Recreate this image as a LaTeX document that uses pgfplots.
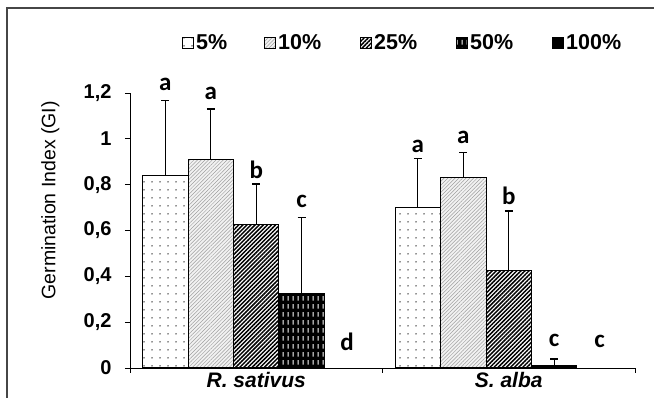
\documentclass[border=0pt]{standalone}
\usepackage{pgfplots}
\pgfplotsset{compat=1.18}
\usepackage{fontspec}
\setmainfont{Liberation Sans}
\newfontfamily\letterfont{Carlito}
\usetikzlibrary{patterns,patterns.meta}

\pgfdeclarepattern{
  name=vdash,
  type=uncolored,
  bottom left={\pgfpointorigin},
  top right={\pgfpoint{4.6pt}{8pt}},
  tile size={\pgfpoint{4.6pt}{8pt}},
  code={
    \pgfsetlinewidth{1.1pt}
    \pgfpathmoveto{\pgfpoint{2.3pt}{1.5pt}}
    \pgfpathlineto{\pgfpoint{2.3pt}{6.5pt}}
    \pgfusepath{stroke}
  }
}

\tikzset{
  sfive/.style={draw=black, line width=1pt, fill=white, postaction={pattern={Dots[distance=8pt, radius=0.75pt]}, pattern color=black!85}},
  sten/.style={draw=black, line width=1pt, fill=gray!10, postaction={pattern={Lines[angle=45, distance=2.6pt, line width=0.5pt]}, pattern color=gray!75}},
  stwf/.style={draw=black, line width=1pt, fill=white, postaction={pattern={Lines[angle=45, distance=2.9pt, line width=1.5pt]}, pattern color=black}},
  sfifty/.style={draw=black, line width=1pt, fill=black, postaction={pattern=vdash, pattern color=white}},
  shundred/.style={draw=black, line width=1pt, fill=black},
}
\newcommand{\legfont}{\bfseries\fontsize{21.5}{21.5}\selectfont}
\newcommand{\letfont}{\letterfont\bfseries\fontsize{25}{25}\selectfont}

\begin{document}
\begin{tikzpicture}
\useasboundingbox (0,0) rectangle (654pt,398pt);
\draw[gray!55!black, line width=1.5pt] (7pt,0) -- (7pt,390pt) -- (654pt,390pt);
\begin{axis}[
  at={(130pt,30pt)}, anchor=south west,
  scale only axis, width=505pt, height=275pt,
  xmin=-0.5, xmax=1.5, ymin=0, ymax=1.2,
  axis lines*=left,
  axis line style={line width=0.8pt},
  tick style={line width=0.8pt, black},
  tick align=outside, major tick length=5pt,
  xtick={-0.5,0.5,1.5}, xticklabels={},
  extra x ticks={0,1},
  extra x tick labels={R. sativus, S. alba},
  extra x tick style={major tick length=0pt, tick label style={font=\bfseries\itshape\fontsize{21}{21}\selectfont, yshift=-1pt}},
  ytick={0,0.2,0.4,0.6,0.8,1,1.2},
  /pgf/number format/use comma,
  /pgf/number format/fixed,
  /pgf/number format/precision=1,
  /pgf/number format/assume math mode=true,
  yticklabel style={font=\bfseries\fontsize{20}{20}\selectfont, xshift=-10pt},
  ylabel={Germination Index (GI)},
  ylabel style={at={(axis description cs:-0.158,0.61)}, anchor=center, font=\fontsize{19.5}{19.5}\selectfont},
  ybar, bar width=0.18, bar shift=0pt,
  clip=false,
  legend columns=5,
  legend image code/.code={\draw[#1] (0pt,-5.5pt) rectangle (11pt,5.5pt);},
  legend style={draw=none, fill=none, inner sep=0pt, at={(0.103,1.182)}, anchor=west},
  error bars/y dir=plus, error bars/y explicit,
  error bars/error bar style={line width=1.2pt, black},
  error bars/error mark options={rotate=90, line width=1.2pt, black, mark size=4pt},
]
\addlegendimage{sfive}\addlegendentry{\makebox[66pt][l]{\legfont 5\%}}
\addlegendimage{sten}\addlegendentry{\makebox[80pt][l]{\legfont 10\%}}
\addlegendimage{stwf}\addlegendentry{\makebox[80pt][l]{\legfont 25\%}}
\addlegendimage{sfifty}\addlegendentry{\makebox[80pt][l]{\legfont 50\%}}
\addlegendimage{shundred}\addlegendentry{\legfont 100\%}

\addplot[sfive, forget plot] coordinates {(-0.36,0.84) +- (0,0.327) (0.64,0.70) +- (0,0.215)};
\addplot[sten, forget plot] coordinates {(-0.18,0.91) +- (0,0.22) (0.82,0.83) +- (0,0.11)};
\addplot[stwf, forget plot] coordinates {(0,0.627) +- (0,0.176) (1.0,0.427) +- (0,0.258)};
\addplot[sfifty, forget plot] coordinates {(0.18,0.326) +- (0,0.332) (1.18,0.013) +- (0,0.026)};

\node at (axis cs:-0.36,1.236) {\letfont a};
\node at (axis cs:-0.18,1.20) {\letfont a};
\node at (axis cs:0,0.865) {\letfont b};
\node at (axis cs:0.18,0.725) {\letfont c};
\node at (axis cs:0.36,0.114) {\letfont d};
\node at (axis cs:0.64,0.965) {\letfont a};
\node at (axis cs:0.82,1.004) {\letfont a};
\node at (axis cs:1.0,0.751) {\letfont b};
\node at (axis cs:1.18,0.122) {\letfont c};
\node at (axis cs:1.36,0.114) {\letfont c};
\end{axis}
\end{tikzpicture}
\end{document}
